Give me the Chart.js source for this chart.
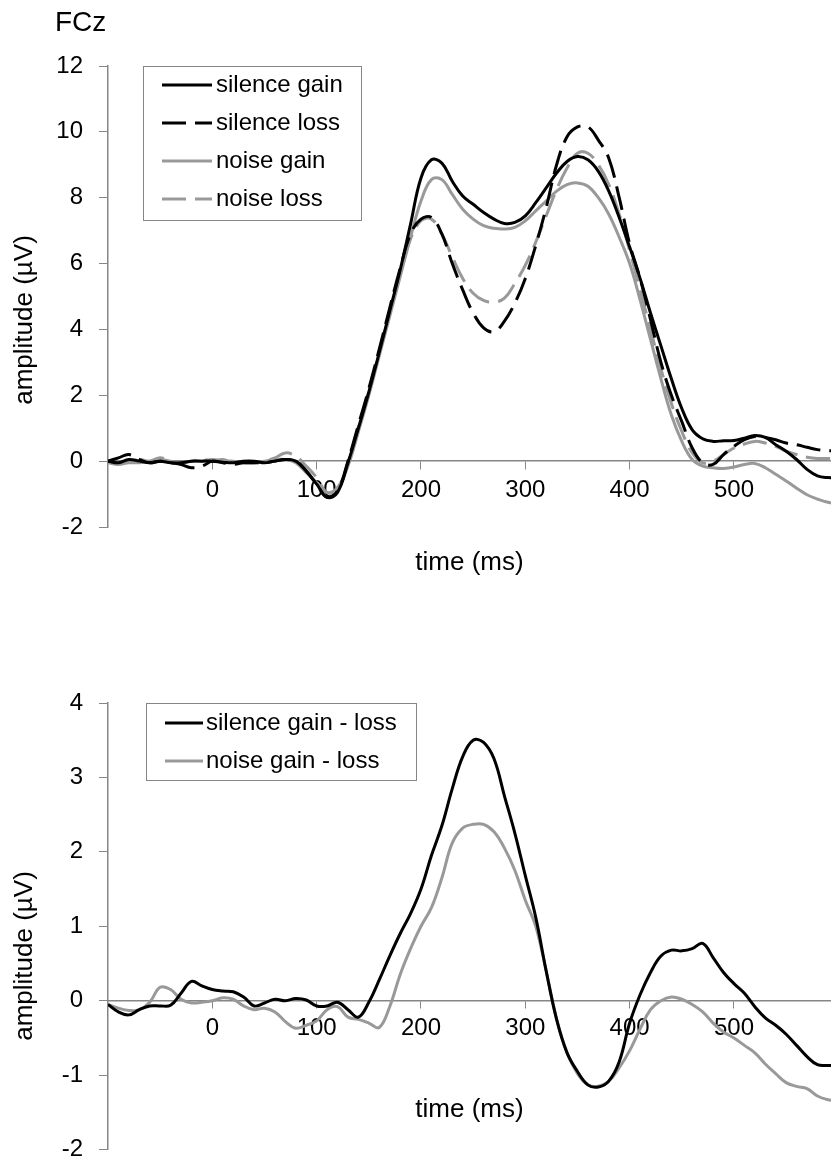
<!DOCTYPE html>
<html><head><meta charset="utf-8">
<script src="https://cdn.jsdelivr.net/npm/chart.js@4.4.1/dist/chart.umd.min.js"></script>
<style>
html,body{margin:0;padding:0;background:#fff;overflow:hidden;width:831px;height:1162px;}
#w1{position:absolute;left:0;top:0;width:831px;height:600px;}
#w2{position:absolute;left:0;top:600px;width:831px;height:580px;}
</style></head><body>
<div id="w1"><canvas id="c1"></canvas></div>
<div id="w2"><canvas id="c2"></canvas></div>
<script>
// ---- data ----
const times = [-100,-90,-80,-70,-60,-50,-40,-30,-20,-10,
  0,10,20,30,40,50,60,70,80,90,
  100,110,120,130,140,150,160,170,180,190,
  200,210,220,230,240,250,260,270,280,290,
  300,310,320,330,340,350,360,370,380,390,
  400,410,420,430,440,450,460,470,480,490,
  500,510,520,530,540,550,560,570,580,590,
  600];

const silenceGain = [0.0,-0.05,0.05,0.0,-0.05,0.0,-0.05,-0.05,0.0,0.0,
  0.0,-0.03,-0.05,0.0,0.0,-0.05,0.0,0.05,0.0,-0.3,
  -0.7,-1.1,-0.95,-0.05,1.0,2.1,3.3,4.55,5.8,7.2,
  8.6,9.15,9.05,8.5,8.05,7.8,7.55,7.35,7.22,7.25,
  7.45,7.85,8.3,8.75,9.1,9.25,9.15,8.8,8.2,7.4,
  6.5,5.55,4.5,3.5,2.5,1.6,0.95,0.68,0.6,0.62,
  0.63,0.7,0.78,0.72,0.5,0.3,0.05,-0.25,-0.45,-0.5,
  -0.5];

const silenceLoss = [0.0,0.1,0.2,0.05,-0.05,0.0,-0.05,-0.1,-0.2,-0.15,
  0.0,-0.05,-0.1,-0.05,-0.05,-0.05,0.0,0.05,0.0,-0.3,
  -0.7,-1.1,-0.9,0.0,1.1,2.2,3.4,4.65,5.85,6.9,
  7.35,7.4,6.9,6.0,5.2,4.5,4.05,3.93,4.25,4.8,
  5.55,6.55,7.7,9.0,9.85,10.15,10.15,9.75,9.2,8.0,
  6.6,5.55,4.3,3.0,2.0,1.2,0.4,-0.05,-0.1,0.2,
  0.45,0.65,0.75,0.72,0.65,0.55,0.5,0.42,0.35,0.32,
  0.3];

const noiseGain = [-0.05,-0.1,-0.05,-0.05,0.0,0.05,0.0,-0.05,0.0,0.0,
  0.05,0.0,0.0,-0.05,-0.05,0.0,0.05,0.05,-0.05,-0.35,
  -0.65,-0.95,-0.8,-0.15,0.9,2.0,3.2,4.4,5.6,6.8,
  7.9,8.55,8.55,8.1,7.65,7.35,7.15,7.07,7.05,7.1,
  7.3,7.6,7.9,8.2,8.4,8.45,8.35,8.0,7.5,6.8,
  6.0,4.9,3.7,2.5,1.4,0.6,0.05,-0.15,-0.2,-0.22,
  -0.18,-0.1,-0.07,-0.2,-0.4,-0.6,-0.82,-1.02,-1.15,-1.25,
  -1.3];

const noiseLoss = [0.0,-0.05,0.0,0.05,0.0,0.1,0.0,-0.05,0.0,0.05,
  0.0,0.05,-0.05,0.0,-0.05,0.0,0.1,0.25,0.15,-0.15,
  -0.5,-0.95,-0.85,-0.05,1.05,2.1,3.3,4.5,5.7,6.75,
  7.3,7.35,6.9,6.2,5.55,5.1,4.88,4.83,4.95,5.4,
  5.95,6.65,7.45,8.25,8.9,9.35,9.35,9.0,8.4,7.5,
  6.4,5.2,4.0,2.8,1.75,0.9,0.25,-0.05,0.0,0.2,
  0.4,0.52,0.6,0.55,0.45,0.3,0.2,0.12,0.08,0.08,
  0.08];

const silenceDiff = [-0.05,-0.15,-0.19,-0.12,-0.07,-0.07,-0.06,0.1,0.26,0.2,
  0.15,0.13,0.12,0.05,-0.07,-0.03,0.02,0.0,0.03,0.01,
  -0.07,-0.07,-0.02,-0.12,-0.22,-0.02,0.28,0.6,0.9,1.17,
  1.5,1.95,2.35,2.85,3.28,3.5,3.47,3.25,2.75,2.25,
  1.68,1.12,0.4,-0.25,-0.7,-0.95,-1.13,-1.16,-1.08,-0.82,
  -0.3,0.08,0.38,0.6,0.68,0.67,0.7,0.77,0.58,0.38,
  0.23,0.1,-0.08,-0.23,-0.33,-0.45,-0.6,-0.75,-0.86,-0.87,
  -0.87];

const noiseDiff = [-0.05,-0.1,-0.13,-0.12,-0.02,0.18,0.15,0.02,-0.03,-0.02,
  0.0,0.04,0.02,-0.07,-0.12,-0.1,-0.15,-0.28,-0.37,-0.33,
  -0.27,-0.12,-0.08,-0.22,-0.25,-0.3,-0.36,-0.08,0.35,0.7,
  1.0,1.25,1.65,2.12,2.32,2.37,2.37,2.27,2.05,1.75,
  1.35,1.0,0.4,-0.25,-0.7,-0.98,-1.13,-1.15,-1.08,-0.9,
  -0.67,-0.38,-0.12,0.0,0.05,0.02,-0.05,-0.15,-0.3,-0.42,
  -0.5,-0.6,-0.7,-0.85,-0.98,-1.1,-1.15,-1.18,-1.28,-1.33,
  -1.35];

const xTicks = [0,100,200,300,400,500];
const topYTicks = [-2,0,2,4,6,8,10,12];
const bottomYTicks = [-2,-1,0,1,2,3,4];
const topLabels = ['silence gain','silence loss','noise gain','noise loss'];
const bottomLabels = ['silence gain - loss','noise gain - loss'];
const xTitle = 'time (ms)';
const yTitle = 'amplitude (\u00b5V)';
const panelTitle = 'FCz';

// ---- styling ----
const FONT = "'Liberation Sans', Arial, sans-serif";
const BLACK = '#000000';
const GREY = '#999999';
const AXIS = '#868686';
const DASH = [24, 9];

const toXY = vals => vals.map((v, i) => ({x: times[i], y: v}));

function line(label, vals, color, dashed) {
  return {
    label, data: toXY(vals), borderColor: color, backgroundColor: color,
    borderWidth: 3, borderDash: dashed ? DASH : [], pointRadius: 0,
    tension: 0.4, fill: false
  };
}

function legendPlugin(o) {
  return {
    id: 'boxLegend',
    afterDraw(chart) {
      const ctx = chart.ctx;
      ctx.save();
      ctx.fillStyle = '#fff';
      ctx.fillRect(o.x, o.y, o.w, o.h);
      ctx.strokeStyle = AXIS; ctx.lineWidth = 1;
      ctx.strokeRect(o.x + 0.5, o.y + 0.5, o.w, o.h);
      ctx.font = '24px ' + FONT;
      ctx.textBaseline = 'middle'; ctx.textAlign = 'left';
      chart.data.datasets.forEach((ds, i) => {
        const cy = o.y + o.first + i * o.row;
        ctx.beginPath();
        ctx.setLineDash(ds.borderDash || []);
        ctx.strokeStyle = ds.borderColor; ctx.lineWidth = ds.borderWidth;
        ctx.moveTo(o.l0, cy); ctx.lineTo(o.l1, cy); ctx.stroke();
        ctx.setLineDash([]);
        ctx.fillStyle = '#000';
        ctx.fillText(ds.label, o.tx, cy);
      });
      ctx.restore();
    }
  };
}

function textPlugin(items) {
  return {
    id: 'decor',
    afterDraw(chart) {
      const ctx = chart.ctx;
      items.forEach(t => {
        ctx.save();
        ctx.font = t.size + 'px ' + FONT;
        ctx.fillStyle = '#000';
        ctx.textBaseline = 'middle';
        ctx.textAlign = t.align || 'center';
        ctx.translate(t.x, t.y);
        if (t.rot) ctx.rotate(t.rot);
        ctx.fillText(t.text, 0, 0);
        ctx.restore();
      });
    }
  };
}

function makeChart(id, datasets, yMin, yMax, yTicks, p) {
  return new Chart(document.getElementById(id), {
    type: 'line',
    data: {datasets},
    options: {
      responsive: true, maintainAspectRatio: false, animation: false,
      devicePixelRatio: 1,
      layout: {padding: {top: p.padTop, bottom: p.padBottom, left: 0, right: 0}},
      plugins: {legend: {display: false}, tooltip: {enabled: false}, title: {display: false}},
      scales: {
        x: {
          type: 'linear', min: -100, max: 593,
          position: {y: 0},
          afterBuildTicks: s => { s.ticks = xTicks.map(v => ({value: v})); },
          grid: {display: true, drawOnChartArea: false, drawTicks: true, tickLength: p.xtl, color: AXIS, lineWidth: 1},
          border: {display: true, color: AXIS, width: 1.5},
          ticks: {font: {family: FONT, size: 24}, color: '#000', padding: p.xpad, maxRotation: 0, autoSkip: false},
          title: {display: true, text: xTitle, font: {family: FONT, size: 26}, color: '#000', padding: 0},
          afterFit: s => { s.height = p.xH; }
        },
        y: {
          type: 'linear', min: yMin, max: yMax,
          afterBuildTicks: s => { s.ticks = yTicks.map(v => ({value: v})); },
          grid: {display: true, drawOnChartArea: false, drawTicks: true, tickLength: 9, color: AXIS, lineWidth: 1},
          border: {display: true, color: AXIS, width: 1.5},
          ticks: {font: {family: FONT, size: 24}, color: '#000', padding: 16},
          afterFit: s => { s.width = 108; }
        }
      }
    },
    plugins: [legendPlugin(p.legend), textPlugin(p.texts)]
  });
}

makeChart('c1', [
  line(topLabels[0], silenceGain, BLACK, false),
  line(topLabels[1], silenceLoss, BLACK, true),
  line(topLabels[2], noiseGain, GREY, false),
  line(topLabels[3], noiseLoss, GREY, true)
], -2, 12, topYTicks, {
  padTop: 66, padBottom: 73, xtl: 8, xpad: 7, xH: 117.6,
  legend: {x: 143, y: 66, w: 218, h: 154, first: 19, row: 38, l0: 162, l1: 212, tx: 216},
  texts: [
    {text: panelTitle, x: 55, y: 23, size: 28, align: 'left'},
    {text: yTitle, x: 25, y: 320, size: 26, rot: -Math.PI / 2}
  ]
});

makeChart('c2', [
  line(bottomLabels[0], silenceDiff, BLACK, false),
  line(bottomLabels[1], noiseDiff, GREY, false)
], -2, 4, bottomYTicks, {
  padTop: 103, padBottom: 28, xtl: 7, xpad: 6, xH: 124.6,
  legend: {x: 146, y: 103, w: 270, h: 77, first: 20, row: 38, l0: 165, l1: 203, tx: 206},
  texts: [
    {text: yTitle, x: 25, y: 356, size: 26, rot: -Math.PI / 2}
  ]
});
</script>
</body></html>
